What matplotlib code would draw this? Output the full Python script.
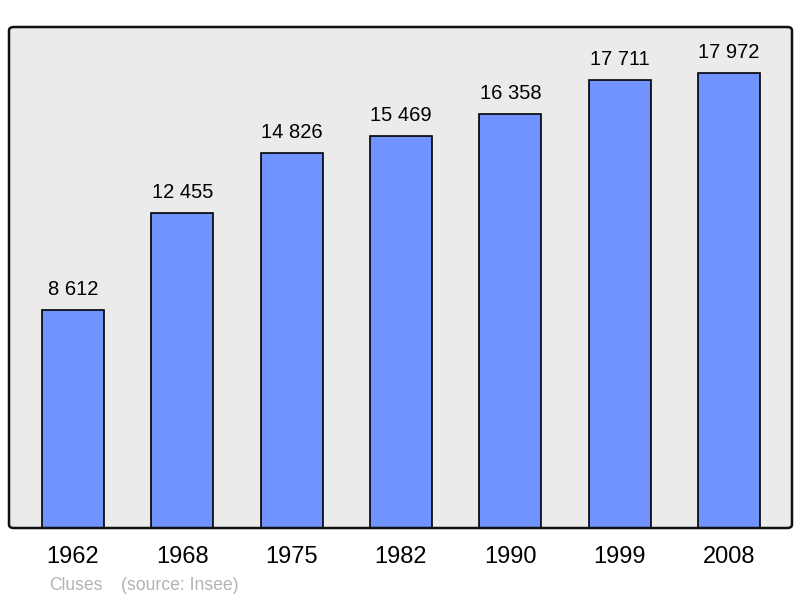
import matplotlib.pyplot as plt
from matplotlib.patches import FancyBboxPatch

annees = ['1962', '1968', '1975', '1982', '1990', '1999', '2008']
population = [8612, 12455, 14826, 15469, 16358, 17711, 17972]
etiquettes = ['8 612', '12 455', '14 826', '15 469', '16 358', '17 711', '17 972']

plt.rcParams['font.family'] = ['Liberation Sans', 'DejaVu Sans']

fig = plt.figure(figsize=(8, 5.98), dpi=100)
W, H = 800, 598
ax = fig.add_axes([9 / W, (H - 528) / H, 783 / W, 501 / H])
ax.set_facecolor('#ebebeb')

pozycje = range(len(annees))
ax.bar(pozycje, population, width=0.567, color='#7093ff', edgecolor='black', linewidth=1.2, zorder=2)

for x, y, t in zip(pozycje, population, etiquettes):
    ax.annotate(t, (x, y), xytext=(0, 8), textcoords='offset points',
                ha='center', va='bottom', fontsize=14.5, color='black')

ax.set_xlim(-0.585, 6.576)
ax.set_ylim(0, 19790)
ax.set_xticks(list(pozycje))
ax.set_xticklabels(annees, fontsize=17)
ax.tick_params(axis='x', length=0, pad=13)
ax.set_yticks([])
for s in ax.spines.values():
    s.set_visible(False)

# ramka z zaokraglonymi rogami
ramka = FancyBboxPatch((9 / W, (H - 528) / H), 783 / W, 501 / H,
                       boxstyle='round,pad=0,rounding_size=0.006',
                       transform=fig.transFigure, facecolor='none',
                       edgecolor='#111111', linewidth=1.8, zorder=5)
fig.patches.append(ramka)

fig.text(49 / W, 1 - 585 / H, 'Cluses', fontsize=12.7,
         color='#b3b3b3', ha='left', va='center')
fig.text(121 / W, 1 - 585 / H, '(source: Insee)', fontsize=12.7,
         color='#b3b3b3', ha='left', va='center')

fig.savefig('out.png', dpi=100)
